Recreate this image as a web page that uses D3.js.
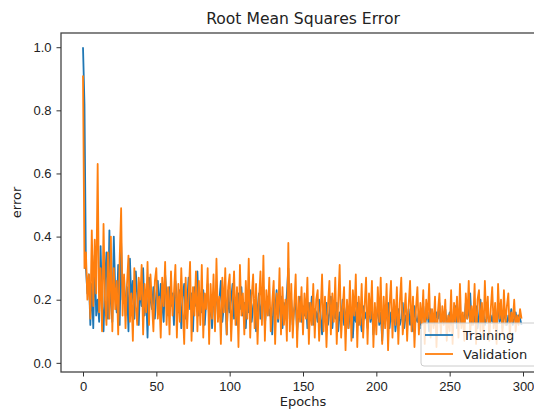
<!DOCTYPE html>
<html>
<head>
<meta charset="utf-8">
<script src="https://cdn.jsdelivr.net/npm/d3@7"></script>
<style>
    body { margin: 0; background: #fff; }
    svg { display: block; font-family: "DejaVu Sans", sans-serif; }
    .axis text { font-size: 13px; fill: #222; }
    .axis path { display: none; }
    .axis line { stroke: #333; }
</style>
</head>
<body>
<svg class="rmse_chart" width="534" height="410"></svg>
<script>

// training error per epoch (0..299)
var trainErr = [
    1.00, 0.82, 0.30, 0.22, 0.28, 0.12, 0.25, 0.11, 0.34, 0.15,
    0.20, 0.13, 0.37, 0.18, 0.10, 0.26, 0.35, 0.14, 0.42, 0.19,
    0.13, 0.40, 0.22, 0.16, 0.31, 0.12, 0.38, 0.20, 0.27, 0.15,
    0.24, 0.10, 0.33, 0.19, 0.26, 0.14, 0.29, 0.21, 0.12, 0.25,
    0.18, 0.30, 0.15, 0.23, 0.08, 0.27, 0.20, 0.17, 0.24, 0.14,
    0.22, 0.26, 0.16, 0.25, 0.19, 0.13, 0.28, 0.21, 0.15, 0.24,
    0.18, 0.22, 0.12, 0.26, 0.20, 0.16, 0.23, 0.11, 0.21, 0.25,
    0.14, 0.19, 0.27, 0.17, 0.22, 0.10, 0.24, 0.18, 0.29, 0.15,
    0.21, 0.16, 0.23, 0.12, 0.20, 0.25, 0.14, 0.19, 0.11, 0.22,
    0.17, 0.24, 0.15, 0.20, 0.26, 0.13, 0.18, 0.21, 0.09, 0.23,
    0.16, 0.20, 0.25, 0.14, 0.19, 0.12, 0.22, 0.17, 0.24, 0.15,
    0.19, 0.11, 0.21, 0.16, 0.23, 0.13, 0.18, 0.20, 0.10, 0.17,
    0.22, 0.14, 0.19, 0.24, 0.12, 0.18, 0.21, 0.15, 0.17, 0.09,
    0.20, 0.16, 0.23, 0.13, 0.18, 0.21, 0.11, 0.19, 0.15, 0.22,
    0.30, 0.14, 0.20, 0.12, 0.17, 0.19, 0.10, 0.16, 0.21, 0.13,
    0.18, 0.15, 0.20, 0.11, 0.19, 0.14, 0.21, 0.12, 0.17, 0.16,
    0.13, 0.20, 0.15, 0.09, 0.18, 0.14, 0.19, 0.12, 0.16, 0.21,
    0.11, 0.17, 0.14, 0.19, 0.10, 0.16, 0.13, 0.20, 0.12, 0.15,
    0.18, 0.11, 0.16, 0.14, 0.08, 0.17, 0.13, 0.19, 0.12, 0.15,
    0.10, 0.18, 0.14, 0.16, 0.11, 0.19, 0.13, 0.17, 0.09, 0.15,
    0.14, 0.18, 0.12, 0.16, 0.07, 0.17, 0.13, 0.15, 0.19, 0.11,
    0.16, 0.13, 0.18, 0.10, 0.15, 0.17, 0.12, 0.14, 0.19, 0.11,
    0.15, 0.13, 0.17, 0.12, 0.16, 0.10, 0.18, 0.14, 0.13, 0.16,
    0.11, 0.15, 0.18, 0.12, 0.14, 0.16, 0.10, 0.17, 0.13, 0.15,
    0.12, 0.16, 0.14, 0.19, 0.11, 0.15, 0.13, 0.17, 0.12, 0.14,
    0.16, 0.12, 0.15, 0.13, 0.18, 0.11, 0.14, 0.17, 0.12, 0.15,
    0.13, 0.19, 0.14, 0.16, 0.22, 0.12, 0.15, 0.13, 0.18, 0.11,
    0.15, 0.20, 0.13, 0.16, 0.12, 0.14, 0.17, 0.11, 0.15, 0.13,
    0.16, 0.12, 0.14, 0.18, 0.13, 0.15, 0.11, 0.16, 0.14, 0.12,
    0.15, 0.13, 0.17, 0.12, 0.14, 0.16, 0.13, 0.15, 0.14, 0.12
];

// validation error per epoch (0..299)
var validErr = [
    0.91, 0.30, 0.35, 0.20, 0.28, 0.14, 0.42, 0.18, 0.39, 0.22,
    0.63, 0.16, 0.30, 0.10, 0.44, 0.20, 0.12, 0.35, 0.14, 0.40,
    0.10, 0.30, 0.17, 0.26, 0.09, 0.33, 0.49, 0.15, 0.28, 0.11,
    0.25, 0.34, 0.13, 0.22, 0.07, 0.30, 0.18, 0.12, 0.27, 0.20,
    0.31, 0.09, 0.25, 0.16, 0.32, 0.12, 0.28, 0.19, 0.10, 0.26,
    0.30, 0.14, 0.21, 0.08, 0.27, 0.18, 0.32, 0.12, 0.24, 0.09,
    0.29, 0.15, 0.22, 0.31, 0.08, 0.25, 0.13, 0.30, 0.17, 0.06,
    0.27, 0.11, 0.21, 0.32, 0.07, 0.24, 0.15, 0.29, 0.10, 0.26,
    0.12, 0.31, 0.08, 0.22, 0.17, 0.30, 0.06, 0.25, 0.14, 0.28,
    0.10, 0.33, 0.13, 0.21, 0.06, 0.27, 0.16, 0.30, 0.09, 0.24,
    0.28, 0.07, 0.19, 0.29, 0.12, 0.24, 0.05, 0.31, 0.15, 0.22,
    0.09, 0.26, 0.14, 0.33, 0.08, 0.21, 0.28, 0.11, 0.25, 0.06,
    0.20, 0.29, 0.12, 0.34, 0.07, 0.23, 0.15, 0.27, 0.10, 0.19,
    0.26, 0.06, 0.22, 0.14, 0.30, 0.09, 0.24, 0.12, 0.20, 0.07,
    0.38, 0.10, 0.25, 0.08, 0.18, 0.28, 0.05, 0.21, 0.13, 0.24,
    0.09, 0.22, 0.14, 0.27, 0.06, 0.19, 0.12, 0.25, 0.08, 0.20,
    0.23, 0.07, 0.16, 0.28, 0.10, 0.21, 0.05, 0.18, 0.26, 0.09,
    0.22, 0.13, 0.27, 0.06, 0.19, 0.31, 0.08, 0.17, 0.24, 0.04,
    0.20, 0.11, 0.26, 0.07, 0.23, 0.15, 0.28, 0.05, 0.21, 0.12,
    0.25, 0.08, 0.18, 0.27, 0.06, 0.22, 0.14, 0.26, 0.05, 0.19,
    0.09, 0.24, 0.13, 0.27, 0.06, 0.21, 0.11, 0.25, 0.04, 0.18,
    0.26, 0.08, 0.20, 0.12, 0.24, 0.06, 0.19, 0.27, 0.09, 0.15,
    0.22, 0.07, 0.18, 0.26, 0.10, 0.21, 0.05, 0.17, 0.24, 0.09,
    0.19, 0.12, 0.23, 0.06, 0.20, 0.14, 0.25, 0.08, 0.17, 0.11,
    0.21, 0.05, 0.16, 0.22, 0.09, 0.18, 0.12, 0.20, 0.07, 0.15,
    0.10, 0.23, 0.06, 0.19, 0.13, 0.21, 0.08, 0.25, 0.11, 0.16,
    0.07, 0.22, 0.14, 0.26, 0.09, 0.18, 0.12, 0.25, 0.06, 0.20,
    0.23, 0.10, 0.19, 0.08, 0.26, 0.13, 0.21, 0.07, 0.17, 0.24,
    0.11, 0.19, 0.06, 0.25, 0.14, 0.20, 0.09, 0.23, 0.12, 0.18,
    0.22, 0.08, 0.16, 0.13, 0.20, 0.10, 0.15, 0.12, 0.17, 0.14
];

var xTicks = [0, 50, 100, 150, 200, 250, 300];
var yTicks = [0.0, 0.2, 0.4, 0.6, 0.8, 1.0];
var seriesNames = ["Training", "Validation"];
var seriesColors = ["#1f77b4", "#ff7f0e"];

// plot box (right side runs off the picture, like the reference)
var box = { left: 61, top: 33, right: 545, bottom: 372 };

var svg = d3.select('.rmse_chart');

var xScale = d3.scaleLinear().domain([-15, 315]).range([box.left, box.right]);
var yScale = d3.scaleLinear().domain([-0.029, 1.045]).range([box.bottom, box.top]);

var valueLine = d3.line()
    .x(function (d, i) { return xScale(i); })
    .y(function (d) { return yScale(d); });

// lines
[trainErr, validErr].forEach(function (s, k) {
    svg.append("path")
        .datum(s)
        .attr("fill", "none")
        .attr("stroke", seriesColors[k])
        .attr("stroke-width", 1.8)
        .attr("stroke-linejoin", "round")
        .attr("d", valueLine);
});

// frame
svg.append("rect")
    .attr("x", box.left)
    .attr("y", box.top)
    .attr("width", box.right - box.left)
    .attr("height", box.bottom - box.top)
    .attr("fill", "none")
    .attr("stroke", "#444")
    .attr("stroke-width", 1.3);

// axes
svg.append("g")
    .attr("class", "axis")
    .attr("transform", "translate(0," + box.bottom + ")")
    .call(d3.axisBottom(xScale).tickValues(xTicks).tickSize(4.5).tickPadding(5)
        .tickFormat(d3.format("d")));

svg.append("g")
    .attr("class", "axis")
    .attr("transform", "translate(" + box.left + ",0)")
    .call(d3.axisLeft(yScale).tickValues(yTicks).tickSize(4.5).tickPadding(5)
        .tickFormat(d3.format(".1f")));

// title + labels
svg.append("text")
    .text("Root Mean Squares Error")
    .attr("x", (box.left + box.right) / 2)
    .attr("y", 24)
    .attr("text-anchor", "middle")
    .attr("font-size", 15.6)
    .attr("fill", "#222");

svg.append("text")
    .text("Epochs")
    .attr("x", (box.left + box.right) / 2)
    .attr("y", 406)
    .attr("text-anchor", "middle")
    .attr("font-size", 13)
    .attr("fill", "#222");

svg.append("text")
    .text("error")
    .attr("transform", "translate(21," + (box.top + box.bottom) / 2 + ") rotate(-90)")
    .attr("text-anchor", "middle")
    .attr("font-size", 13)
    .attr("fill", "#222");

// legend
var legend = svg.append("g")
    .attr("transform", "translate(421,323)");

legend.append("rect")
    .attr("width", 118)
    .attr("height", 43)
    .attr("rx", 3)
    .attr("fill", "#fff")
    .attr("fill-opacity", 0.8)
    .attr("stroke", "#ccc");

seriesNames.forEach(function (name, i) {
    var row = legend.append("g")
        .attr("transform", "translate(0," + (12 + i * 19) + ")");
    row.append("line")
        .attr("x1", 4).attr("x2", 32)
        .attr("stroke", seriesColors[i])
        .attr("stroke-width", 1.8);
    row.append("text")
        .text(name)
        .attr("x", 42)
        .attr("dy", "0.35em")
        .attr("font-size", 13)
        .attr("fill", "#222");
});

</script>
</body>
</html>
